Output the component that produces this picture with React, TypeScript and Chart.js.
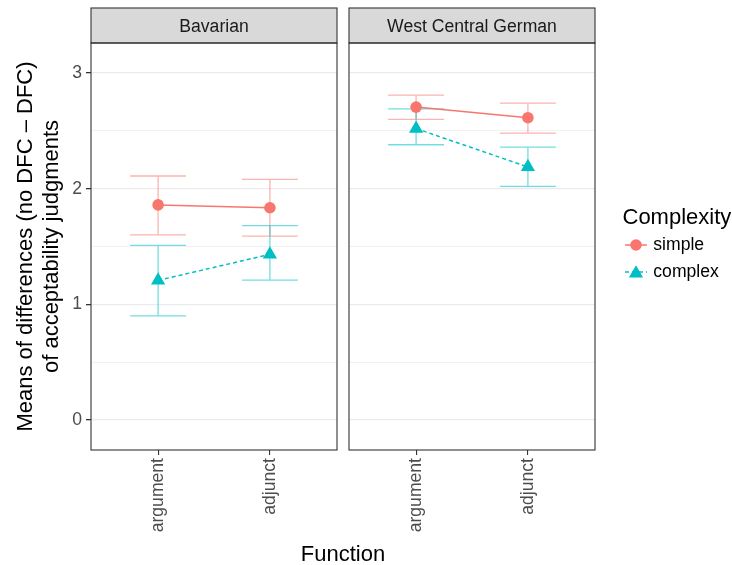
import React, { useEffect, useRef } from 'react';
import { Chart, registerables } from 'chart.js';

Chart.register(...registerables);

// ---------------- data ----------------
const categories = ['argument', 'adjunct'];
const dialects = ['Bavarian', 'West Central German'];
const seriesNames = ['simple', 'complex'];
const yTickValues = [0, 1, 2, 3];
const yGridValues = [0, 0.5, 1, 1.5, 2, 2.5, 3];

const bavarianSimpleMean = [1.86, 1.835];
const bavarianSimpleLow = [1.60, 1.59];
const bavarianSimpleHigh = [2.11, 2.08];
const bavarianComplexMean = [1.207, 1.432];
const bavarianComplexLow = [0.90, 1.21];
const bavarianComplexHigh = [1.51, 1.68];

const wcgSimpleMean = [2.706, 2.614];
const wcgSimpleLow = [2.60, 2.48];
const wcgSimpleHigh = [2.81, 2.74];
const wcgComplexMean = [2.52, 2.188];
const wcgComplexLow = [2.38, 2.02];
const wcgComplexHigh = [2.69, 2.36];

const panels = [
  {
    title: dialects[0],
    series: [
      { mean: bavarianSimpleMean, low: bavarianSimpleLow, high: bavarianSimpleHigh },
      { mean: bavarianComplexMean, low: bavarianComplexLow, high: bavarianComplexHigh },
    ],
  },
  {
    title: dialects[1],
    series: [
      { mean: wcgSimpleMean, low: wcgSimpleLow, high: wcgSimpleHigh },
      { mean: wcgComplexMean, low: wcgComplexLow, high: wcgComplexHigh },
    ],
  },
];

// ---------------- styles ----------------
const W = 732;
const H = 565;
const FONT = '"Liberation Sans", Arial, Helvetica, sans-serif';
const COLORS = ['#F8766D', '#00BFC4'];
const ERR_COLORS = ['rgba(248,118,109,0.55)', 'rgba(0,191,196,0.55)'];
const POINT_STYLES = ['circle', 'triangle'];
const POINT_RADII = [5.8, 8.2];
const DASHES = [[], [4, 3]];
const Y_MIN = -0.2603;
const Y_MAX = 3.2603;
const PANEL_TOP = 43;
const PANEL_BOTTOM = 450;
const STRIP_TOP = 8;
const PANEL_X = [
  [91, 337],
  [349, 595],
];

function drawTriangle(ctx: CanvasRenderingContext2D, x: number, y: number, r: number) {
  ctx.beginPath();
  ctx.moveTo(x, y - r);
  ctx.lineTo(x + r * Math.sin((2 * Math.PI) / 3), y - r * Math.cos((2 * Math.PI) / 3));
  ctx.lineTo(x - r * Math.sin((2 * Math.PI) / 3), y - r * Math.cos((2 * Math.PI) / 3));
  ctx.closePath();
  ctx.fill();
}

function makeConfig(panelIndex: number): any {
  const panel = panels[panelIndex];
  const showY = panelIndex === 0;
  const [left, right] = PANEL_X[panelIndex];

  const datasets = panel.series.map((s, si) => ({
    label: seriesNames[si],
    data: categories.map((_, i) => ({ x: i, y: s.mean[i] })),
    errLow: s.low,
    errHigh: s.high,
    borderColor: COLORS[si],
    backgroundColor: COLORS[si],
    pointBackgroundColor: COLORS[si],
    pointBorderWidth: 0,
    pointStyle: POINT_STYLES[si],
    pointRadius: POINT_RADII[si],
    borderWidth: 1.5,
    borderDash: DASHES[si],
    showLine: true,
    fill: false,
    tension: 0,
  }));

  const errorBarPlugin = {
    id: 'errorBars' + panelIndex,
    beforeDatasetsDraw(chart: any) {
      const ctx = chart.ctx;
      const xs = chart.scales.x;
      const ys = chart.scales.y;
      const half = (xs.getPixelForValue(1) - xs.getPixelForValue(0)) * 0.25;
      ctx.save();
      chart.data.datasets.forEach((ds: any, si: number) => {
        ctx.strokeStyle = ERR_COLORS[si];
        ctx.lineWidth = 1.3;
        ds.data.forEach((pt: any, i: number) => {
          const px = xs.getPixelForValue(pt.x);
          const lo = ys.getPixelForValue(ds.errLow[i]);
          const hi = ys.getPixelForValue(ds.errHigh[i]);
          ctx.beginPath();
          ctx.moveTo(px, lo);
          ctx.lineTo(px, hi);
          ctx.moveTo(px - half, lo);
          ctx.lineTo(px + half, lo);
          ctx.moveTo(px - half, hi);
          ctx.lineTo(px + half, hi);
          ctx.stroke();
        });
      });
      ctx.restore();
    },
  };

  const framePlugin = {
    id: 'frame' + panelIndex,
    afterDraw(chart: any) {
      const ctx = chart.ctx;
      const a = chart.chartArea;
      ctx.save();
      // strip
      ctx.fillStyle = '#D9D9D9';
      ctx.fillRect(a.left, STRIP_TOP, a.right - a.left, a.top - STRIP_TOP);
      ctx.strokeStyle = '#333333';
      ctx.lineWidth = 1.1;
      ctx.strokeRect(a.left, STRIP_TOP, a.right - a.left, a.top - STRIP_TOP);
      ctx.fillStyle = '#1A1A1A';
      ctx.font = `17.6px ${FONT}`;
      ctx.textAlign = 'center';
      ctx.textBaseline = 'alphabetic';
      ctx.fillText(panel.title, (a.left + a.right) / 2, 32);
      // panel border
      ctx.strokeRect(a.left, a.top, a.right - a.left, a.bottom - a.top);

      if (panelIndex === 0) {
        ctx.fillStyle = '#000000';
        ctx.font = `22px ${FONT}`;
        // y axis title
        const cy = (PANEL_TOP + PANEL_BOTTOM) / 2;
        const lines = ['Means of differences (no DFC \u2013 DFC)', 'of acceptability judgments'];
        const baselines = [31.7, 58.3];
        lines.forEach((t, li) => {
          ctx.save();
          ctx.translate(baselines[li], cy);
          ctx.rotate(-Math.PI / 2);
          ctx.textAlign = 'center';
          ctx.fillText(t, 0, 0);
          ctx.restore();
        });
        // x axis title
        ctx.textAlign = 'center';
        ctx.fillText('Function', (PANEL_X[0][0] + PANEL_X[1][1]) / 2, 560.5);
        // legend
        ctx.textAlign = 'left';
        ctx.fillText('Complexity', 622.5, 224.3);
        ctx.font = `17.6px ${FONT}`;
        const keyY = [245, 272];
        const labelBase = [250, 277.3];
        seriesNames.forEach((name, si) => {
          ctx.strokeStyle = COLORS[si];
          ctx.fillStyle = COLORS[si];
          ctx.lineWidth = 1.5;
          ctx.setLineDash(DASHES[si]);
          ctx.beginPath();
          ctx.moveTo(625, keyY[si]);
          ctx.lineTo(647, keyY[si]);
          ctx.stroke();
          ctx.setLineDash([]);
          if (POINT_STYLES[si] === 'circle') {
            ctx.beginPath();
            ctx.arc(636, keyY[si], POINT_RADII[si], 0, Math.PI * 2);
            ctx.fill();
          } else {
            drawTriangle(ctx, 636, keyY[si] + 1.5, POINT_RADII[si]);
          }
          ctx.fillStyle = '#000000';
          ctx.fillText(name, 653.3, labelBase[si]);
        });
      }
      ctx.restore();
    },
  };

  return {
    type: 'line',
    data: { datasets },
    plugins: [errorBarPlugin, framePlugin],
    options: {
      responsive: false,
      animation: false,
      devicePixelRatio: 1,
      layout: { padding: { left: 0, right: W - right, top: PANEL_TOP, bottom: 0 } },
      plugins: { legend: { display: false }, tooltip: { enabled: false }, title: { display: false } },
      scales: {
        x: {
          type: 'linear',
          min: -0.6,
          max: 1.6,
          afterBuildTicks: (s: any) => {
            s.ticks = categories.map((_, i) => ({ value: i }));
          },
          afterFit: (s: any) => {
            s.height = H - PANEL_BOTTOM;
          },
          border: { display: false },
          grid: {
            drawOnChartArea: false,
            drawTicks: true,
            tickLength: 5,
            tickColor: '#333333',
            lineWidth: 1.1,
          },
          ticks: {
            autoSkip: false,
            minRotation: 90,
            maxRotation: 90,
            padding: 3,
            color: '#4D4D4D',
            font: { family: FONT, size: 17.6 },
            callback: (v: any) => categories[v],
          },
        },
        y: {
          type: 'linear',
          min: Y_MIN,
          max: Y_MAX,
          afterBuildTicks: (s: any) => {
            s.ticks = yGridValues.map((v) => ({ value: v }));
          },
          afterFit: (s: any) => {
            s.width = left;
          },
          border: { display: false },
          grid: {
            color: (c: any) => (yTickValues.includes(c.tick?.value) ? '#EBEBEB' : '#F2F2F2'),
            lineWidth: (c: any) => (yTickValues.includes(c.tick?.value) ? 1.3 : 1.1),
            drawTicks: showY,
            tickLength: 5,
            tickColor: (c: any) =>
              yTickValues.includes(c.tick?.value) ? '#333333' : 'rgba(0,0,0,0)',
          },
          ticks: {
            display: showY,
            padding: 4,
            color: '#4D4D4D',
            font: { family: FONT, size: 17.6 },
            callback: (v: any) => (yTickValues.includes(v) ? String(v) : ''),
          },
        },
      },
    },
  };
}

function Panel({ index }: { index: number }) {
  const ref = useRef<HTMLCanvasElement | null>(null);
  useEffect(() => {
    if (!ref.current) return;
    const chart = new Chart(ref.current, makeConfig(index));
    return () => chart.destroy();
  }, [index]);
  return (
    <canvas
      ref={ref}
      width={W}
      height={H}
      style={{ position: 'absolute', left: 0, top: 0, width: W, height: H, pointerEvents: 'none' }}
    />
  );
}

export default function App() {
  return (
    <div style={{ position: 'absolute', left: 0, top: 0, width: W, height: H, background: '#FFFFFF' }}>
      <Panel index={0} />
      <Panel index={1} />
    </div>
  );
}
